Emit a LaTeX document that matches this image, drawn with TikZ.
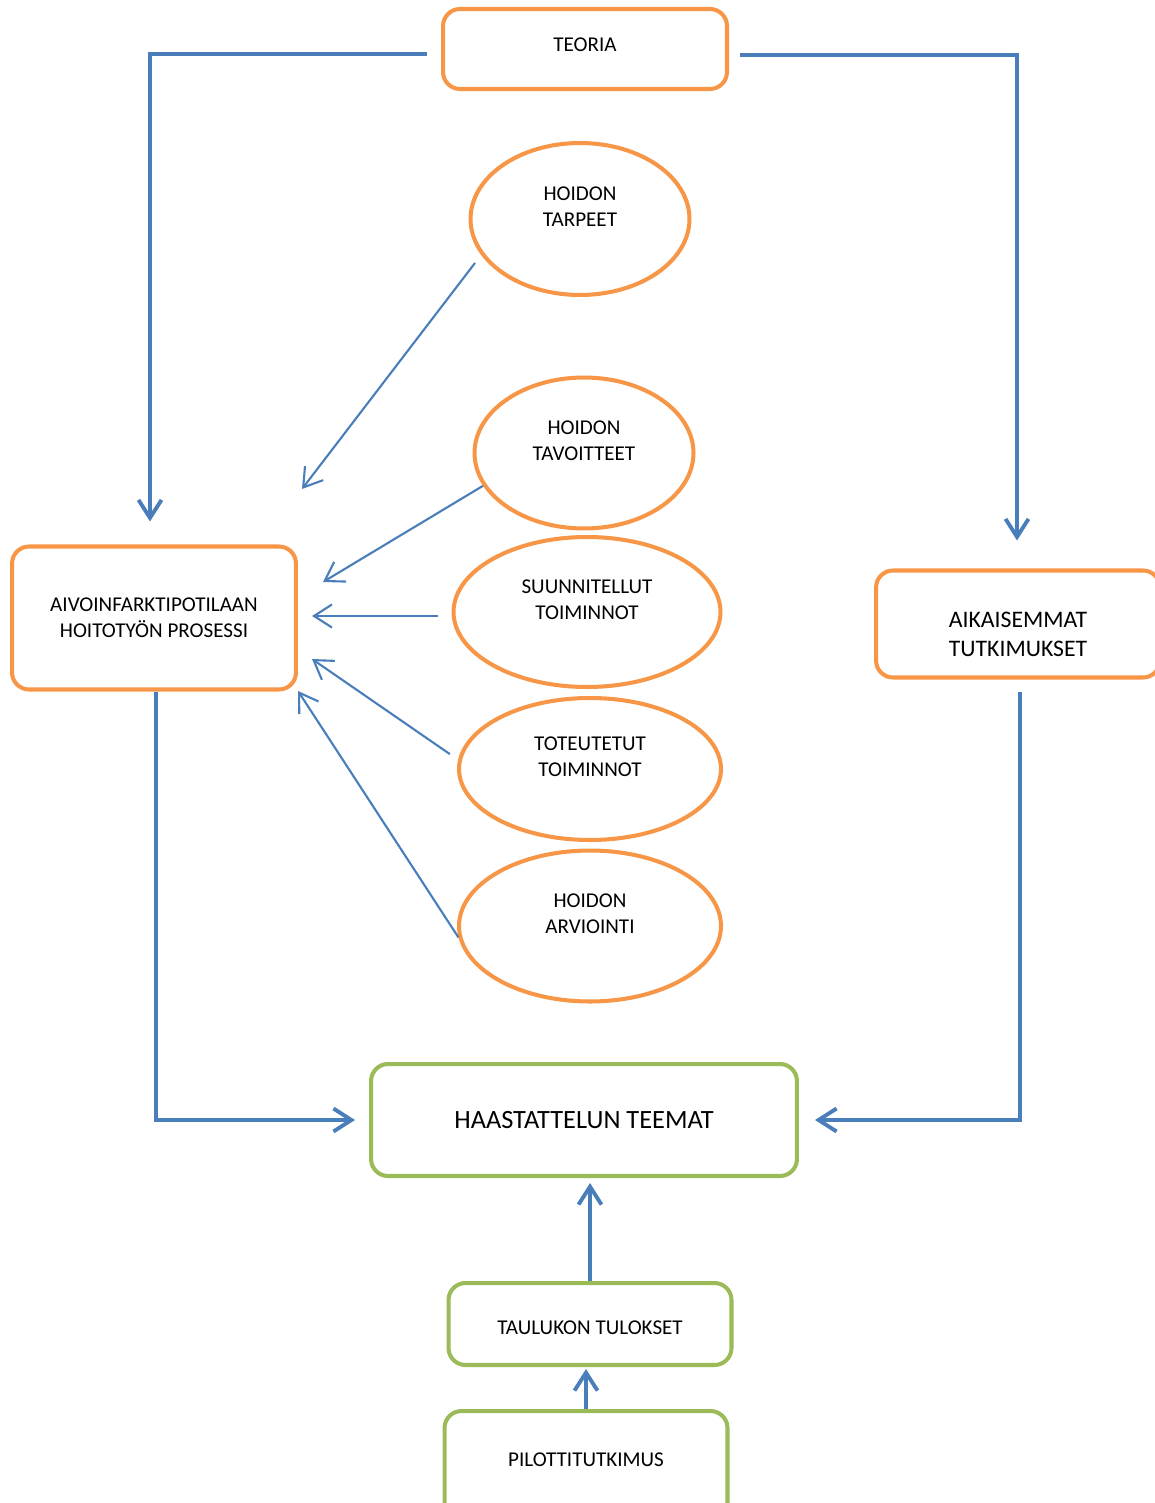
\documentclass[tikz,border=0pt]{standalone}
\usepackage{fontspec}
\setmainfont{Carlito}
\usetikzlibrary{arrows.meta,shapes,calc}
\definecolor{orng}{HTML}{F79646}
\definecolor{blu}{HTML}{4A7EBB}
\definecolor{grn}{HTML}{9BBB59}
\tikzstyle{obox}=[draw=orng,line width=2.3pt,rounded corners=0.34cm,align=center,font=\fontsize{12}{14.7}\selectfont]
\tikzstyle{gbox}=[obox,draw=grn]
\tikzstyle{oval}=[ellipse,draw=orng,line width=2.3pt,align=center,text depth=0.5cm,font=\fontsize{12}{14.7}\selectfont]
\tikzstyle{link}=[draw=blu,line width=2.2pt,-{Straight Barb[length=0.36cm,width=0.46cm]}]
\tikzstyle{thinlink}=[link,line width=1.2pt]

\begin{document}
\begin{tikzpicture}[x=0.02cm,y=-0.02cm]
    \useasboundingbox (0,0) rectangle (1155,1503);
    \clip (0,0) rectangle (1155,1503);
    % Boxes of the theory part
    \node[obox,minimum width=5.68cm,minimum height=1.6cm,text depth=0.16cm] (teoria) at (585,49) {TEORIA};
    \node[obox,minimum width=5.68cm,minimum height=2.86cm] (prosessi) at (154,618)
        {AIVOINFARKTIPOTILAAN\\HOITOTYÖN PROSESSI};
    \node[obox,minimum width=5.68cm,minimum height=2.14cm,text height=1.3cm,font=\fontsize{13.5}{16.4}\selectfont] (aiemmat) at (1018,624)
        {AIKAISEMMAT\\TUTKIMUKSET};
    % Then the ellipses of the nursing process
    \foreach \pos/\name/\txt/\w/\h in {{(580,219)/tarpeet/{HOIDON\\TARPEET}/4.38cm/3.04cm},
        {(584,453)/tavoitteet/{HOIDON\\TAVOITTEET}/4.38cm/3.02cm},
        {(587,612)/suunnitellut/{SUUNNITELLUT\\TOIMINNOT}/5.34cm/3cm},
        {(590,769)/toteutetut/{TOTEUTETUT\\TOIMINNOT}/5.24cm/2.84cm},
        {(590,926)/arviointi/{HOIDON\\ARVIOINTI}/5.24cm/3.02cm}}
        \node[oval,minimum width=\w,minimum height=\h] (\name) at \pos {\txt};
    % Boxes of the interview part
    \node[gbox,minimum width=8.52cm,minimum height=2.24cm,font=\fontsize{15}{18}\selectfont] (teemat) at (584,1120)
        {HAASTATTELUN TEEMAT};
    \node[gbox,minimum width=5.66cm,minimum height=1.64cm,text height=0.44cm] (tulokset) at (590,1324) {TAULUKON TULOKSET};
    \node[gbox,minimum width=5.66cm,minimum height=2.2cm,text depth=0.26cm] (pilotti) at (586,1466) {PILOTTITUTKIMUS};
    % Free ends of the arrows into the process box
    \coordinate (e1) at (302,489);
    \coordinate (e2) at (323,582);
    \coordinate (e3) at (312,616);
    \coordinate (e4) at (312,659);
    \coordinate (e5) at (298,691);
    % Connect the boxes
    \draw[link,shorten <=0.28cm,shorten >=0.46cm] ([yshift=-0.1cm]teoria.west) -| ([xshift=-0.08cm]prosessi.north);
    \draw[link,shorten <=0.22cm,shorten >=0.56cm] ([yshift=-0.12cm]teoria.east) -| ([xshift=-0.02cm]aiemmat.north);
    \draw[link,shorten >=0.28cm] ([xshift=0.04cm]prosessi.south) |- (teemat);
    \draw[link,shorten <=0.24cm,shorten >=0.32cm] ([xshift=0.04cm]aiemmat.south) |- (teemat);
    \draw[link,shorten >=0.1cm] (tulokset.north) -- (tulokset.north |- teemat.south);
    \draw[link,shorten >=0.04cm] (pilotti.north) -- (pilotti.north |- tulokset.south);
    % Connect the ellipses with the process box
    \foreach \source/\dest/\gap in {tarpeet.200/e1/0.2cm,tavoitteet.198/e2/0cm,suunnitellut.west |- e3/e3/0.28cm,toteutetut.176/e4/0.2cm,arviointi.185/e5/0cm}
        \draw[thinlink,shorten <=\gap] (\source) -- (\dest);
\end{tikzpicture}
\end{document}
